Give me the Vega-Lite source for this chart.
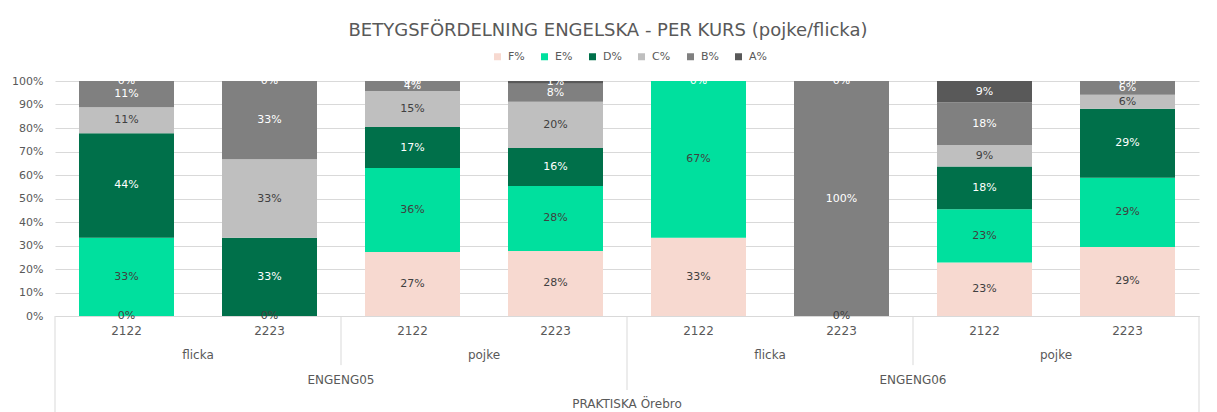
{
  "$schema": "https://vega.github.io/schema/vega-lite/v6.json",
  "width": 1144,
  "height": 235,
  "autosize": {"type": "none"},
  "padding": {"left": 55, "top": 81, "right": 18, "bottom": 96},
  "background": "white",
  "title": {
    "text": "BETYGSFÖRDELNING ENGELSKA - PER KURS (pojke/flicka)",
    "fontSize": 18,
    "font": "DejaVu Sans",
    "fontWeight": "normal",
    "color": "#595959",
    "anchor": "middle",
    "dx": -19,
    "offset": 11
  },
  "config": {
    "view": {"stroke": null},
    "font": "DejaVu Sans",
    "axisX": {"labels": false, "ticks": false, "grid": false, "domainColor": "#d9d9d9", "domainWidth": 1},
    "axisY": {"domain": false, "ticks": false, "tickSize": 0, "labelOverlap": false, "gridColor": "#d9d9d9", "labelColor": "#595959", "labelFontSize": 11, "labelPadding": 12, "format": ".0%", "values": [0, 0.1, 0.2, 0.3, 0.4, 0.5, 0.6, 0.7, 0.8, 0.9, 1]}
  },
  "datasets": {
    "grades": [
      {"grp": "ENGENG05 flicka", "year": "2122", "grade": "F%", "pct": 0},
      {"grp": "ENGENG05 flicka", "year": "2122", "grade": "E%", "pct": 0.3333},
      {"grp": "ENGENG05 flicka", "year": "2122", "grade": "D%", "pct": 0.4444},
      {"grp": "ENGENG05 flicka", "year": "2122", "grade": "C%", "pct": 0.1111},
      {"grp": "ENGENG05 flicka", "year": "2122", "grade": "B%", "pct": 0.1111},
      {"grp": "ENGENG05 flicka", "year": "2122", "grade": "A%", "pct": 0},
      {"grp": "ENGENG05 flicka", "year": "2223", "grade": "F%", "pct": 0},
      {"grp": "ENGENG05 flicka", "year": "2223", "grade": "D%", "pct": 0.3333},
      {"grp": "ENGENG05 flicka", "year": "2223", "grade": "C%", "pct": 0.3333},
      {"grp": "ENGENG05 flicka", "year": "2223", "grade": "B%", "pct": 0.3334},
      {"grp": "ENGENG05 flicka", "year": "2223", "grade": "A%", "pct": 0},
      {"grp": "ENGENG05 pojke", "year": "2122", "grade": "F%", "pct": 0.272},
      {"grp": "ENGENG05 pojke", "year": "2122", "grade": "E%", "pct": 0.358},
      {"grp": "ENGENG05 pojke", "year": "2122", "grade": "D%", "pct": 0.174},
      {"grp": "ENGENG05 pojke", "year": "2122", "grade": "C%", "pct": 0.153},
      {"grp": "ENGENG05 pojke", "year": "2122", "grade": "B%", "pct": 0.043},
      {"grp": "ENGENG05 pojke", "year": "2122", "grade": "A%", "pct": 0},
      {"grp": "ENGENG05 pojke", "year": "2223", "grade": "F%", "pct": 0.277},
      {"grp": "ENGENG05 pojke", "year": "2223", "grade": "E%", "pct": 0.276},
      {"grp": "ENGENG05 pojke", "year": "2223", "grade": "D%", "pct": 0.162},
      {"grp": "ENGENG05 pojke", "year": "2223", "grade": "C%", "pct": 0.197},
      {"grp": "ENGENG05 pojke", "year": "2223", "grade": "B%", "pct": 0.076},
      {"grp": "ENGENG05 pojke", "year": "2223", "grade": "A%", "pct": 0.012},
      {"grp": "ENGENG06 flicka", "year": "2122", "grade": "F%", "pct": 0.3333},
      {"grp": "ENGENG06 flicka", "year": "2122", "grade": "E%", "pct": 0.6667},
      {"grp": "ENGENG06 flicka", "year": "2122", "grade": "A%", "pct": 0},
      {"grp": "ENGENG06 flicka", "year": "2223", "grade": "F%", "pct": 0},
      {"grp": "ENGENG06 flicka", "year": "2223", "grade": "B%", "pct": 1},
      {"grp": "ENGENG06 flicka", "year": "2223", "grade": "A%", "pct": 0},
      {"grp": "ENGENG06 pojke", "year": "2122", "grade": "F%", "pct": 0.2273},
      {"grp": "ENGENG06 pojke", "year": "2122", "grade": "E%", "pct": 0.2273},
      {"grp": "ENGENG06 pojke", "year": "2122", "grade": "D%", "pct": 0.1818},
      {"grp": "ENGENG06 pojke", "year": "2122", "grade": "C%", "pct": 0.0909},
      {"grp": "ENGENG06 pojke", "year": "2122", "grade": "B%", "pct": 0.1818},
      {"grp": "ENGENG06 pojke", "year": "2122", "grade": "A%", "pct": 0.0909},
      {"grp": "ENGENG06 pojke", "year": "2223", "grade": "F%", "pct": 0.2941},
      {"grp": "ENGENG06 pojke", "year": "2223", "grade": "E%", "pct": 0.2941},
      {"grp": "ENGENG06 pojke", "year": "2223", "grade": "D%", "pct": 0.2941},
      {"grp": "ENGENG06 pojke", "year": "2223", "grade": "C%", "pct": 0.0588},
      {"grp": "ENGENG06 pojke", "year": "2223", "grade": "B%", "pct": 0.0589},
      {"grp": "ENGENG06 pojke", "year": "2223", "grade": "A%", "pct": 0}
    ],
    "cols": [
      {"grp": "ENGENG05 flicka", "year": "2122"},
      {"grp": "ENGENG05 flicka", "year": "2223"},
      {"grp": "ENGENG05 pojke", "year": "2122"},
      {"grp": "ENGENG05 pojke", "year": "2223"},
      {"grp": "ENGENG06 flicka", "year": "2122"},
      {"grp": "ENGENG06 flicka", "year": "2223"},
      {"grp": "ENGENG06 pojke", "year": "2122"},
      {"grp": "ENGENG06 pojke", "year": "2223"}
    ],
    "genders": [
      {"grp": "ENGENG05 flicka", "gender": "flicka"},
      {"grp": "ENGENG05 pojke", "gender": "pojke"},
      {"grp": "ENGENG06 flicka", "gender": "flicka"},
      {"grp": "ENGENG06 pojke", "gender": "pojke"}
    ],
    "courses": [
      {"grp": "ENGENG05 pojke", "course": "ENGENG05"},
      {"grp": "ENGENG06 pojke", "course": "ENGENG06"}
    ],
    "school": [
      {"grp": "ENGENG06 flicka", "school": "PRAKTISKA Örebro"}
    ]
  },
  "layer": [
    {
      "data": {"name": "grades"},
      "mark": {"type": "bar"},
      "encoding": {
        "x": {"field": "grp", "type": "nominal", "title": null,
              "scale": {"domain": ["ENGENG05 flicka", "ENGENG05 pojke", "ENGENG06 flicka", "ENGENG06 pojke"], "paddingInner": 0, "paddingOuter": 0}},
        "xOffset": {"field": "year", "type": "nominal",
                    "scale": {"domain": ["2122", "2223"], "paddingInner": 0.3357, "paddingOuter": 0.1678}},
        "y": {"field": "pct", "type": "quantitative", "stack": "zero", "title": null,
              "scale": {"domain": [0, 1], "nice": false},
              "axis": {"format": ".0%", "values": [0, 0.1, 0.2, 0.3, 0.4, 0.5, 0.6, 0.7, 0.8, 0.9, 1]}},
        "order": {"field": "grade", "sort": "descending"},
        "color": {"field": "grade", "type": "nominal",
                  "scale": {"domain": ["F%", "E%", "D%", "C%", "B%", "A%"],
                            "range": ["#F7D9D0", "#00E09E", "#00704A", "#BFBFBF", "#808080", "#595959"]},
                  "legend": {"title": null, "orient": "none", "direction": "horizontal",
                             "legendX": 437, "legendY": -30, "symbolType": "square", "symbolSize": 49,
                             "symbolStrokeWidth": 0, "labelFontSize": 11, "labelColor": "#595959",
                             "columnPadding": 14, "labelOffset": 5}}
      }
    },
    {
      "data": {"name": "grades"},
      "mark": {"type": "text", "fontSize": 11, "baseline": "middle"},
      "encoding": {
        "x": {"field": "grp", "type": "nominal", "title": null,
              "scale": {"domain": ["ENGENG05 flicka", "ENGENG05 pojke", "ENGENG06 flicka", "ENGENG06 pojke"]}},
        "xOffset": {"field": "year", "type": "nominal"},
        "y": {"field": "pct", "type": "quantitative", "stack": "zero", "bandPosition": 0.5, "title": null,
              "axis": {"format": ".0%", "values": [0, 0.1, 0.2, 0.3, 0.4, 0.5, 0.6, 0.7, 0.8, 0.9, 1]}},
        "order": {"field": "grade", "sort": "descending"},
        "detail": {"field": "grade"},
        "text": {"field": "pct", "format": ".0%"},
        "color": {"condition": {"test": "indexof(['D%','B%','A%'], datum.grade) >= 0", "value": "#ffffff"}, "value": "#404040"}
      }
    },
    {
      "data": {"name": "cols"},
      "mark": {"type": "text", "fontSize": 12, "color": "#595959", "baseline": "middle"},
      "encoding": {
        "x": {"field": "grp", "type": "nominal", "title": null},
        "xOffset": {"field": "year", "type": "nominal"},
        "y": {"datum": -0.064, "type": "quantitative", "axis": {"format": ".0%", "values": [0, 0.1, 0.2, 0.3, 0.4, 0.5, 0.6, 0.7, 0.8, 0.9, 1]}},
        "text": {"field": "year"}
      }
    },
    {
      "data": {"name": "genders"},
      "mark": {"type": "text", "fontSize": 12, "color": "#595959", "baseline": "middle"},
      "encoding": {
        "x": {"field": "grp", "type": "nominal", "title": null},
        "y": {"datum": -0.166, "type": "quantitative", "axis": {"format": ".0%", "values": [0, 0.1, 0.2, 0.3, 0.4, 0.5, 0.6, 0.7, 0.8, 0.9, 1]}},
        "text": {"field": "gender"}
      }
    },
    {
      "data": {"name": "courses"},
      "mark": {"type": "text", "fontSize": 12, "color": "#595959", "baseline": "middle"},
      "encoding": {
        "x": {"field": "grp", "type": "nominal", "bandPosition": 0, "title": null},
        "y": {"datum": -0.272, "type": "quantitative", "axis": {"format": ".0%", "values": [0, 0.1, 0.2, 0.3, 0.4, 0.5, 0.6, 0.7, 0.8, 0.9, 1]}},
        "text": {"field": "course"}
      }
    },
    {
      "data": {"name": "school"},
      "mark": {"type": "text", "fontSize": 12, "color": "#595959", "baseline": "middle"},
      "encoding": {
        "x": {"field": "grp", "type": "nominal", "bandPosition": 0, "title": null},
        "y": {"datum": -0.374, "type": "quantitative", "axis": {"format": ".0%", "values": [0, 0.1, 0.2, 0.3, 0.4, 0.5, 0.6, 0.7, 0.8, 0.9, 1]}},
        "text": {"field": "school"}
      }
    },
    {
      "data": {"values": [{"grp": "ENGENG05 pojke"}, {"grp": "ENGENG06 pojke"}]},
      "mark": {"type": "rule", "color": "#d9d9d9", "strokeWidth": 1},
      "encoding": {
        "x": {"field": "grp", "type": "nominal", "bandPosition": 0, "title": null},
        "y": {"datum": 0, "type": "quantitative", "axis": {"format": ".0%", "values": [0, 0.1, 0.2, 0.3, 0.4, 0.5, 0.6, 0.7, 0.8, 0.9, 1]}},
        "y2": {"datum": -0.209}
      }
    },
    {
      "data": {"values": [{"grp": "ENGENG06 flicka"}]},
      "mark": {"type": "rule", "color": "#d9d9d9", "strokeWidth": 1},
      "encoding": {
        "x": {"field": "grp", "type": "nominal", "bandPosition": 0, "title": null},
        "y": {"datum": 0, "type": "quantitative", "axis": {"format": ".0%", "values": [0, 0.1, 0.2, 0.3, 0.4, 0.5, 0.6, 0.7, 0.8, 0.9, 1]}},
        "y2": {"datum": -0.315}
      }
    },
    {
      "data": {"values": [{"grp": "ENGENG05 flicka"}]},
      "mark": {"type": "rule", "color": "#d9d9d9", "strokeWidth": 1},
      "encoding": {
        "x": {"field": "grp", "type": "nominal", "bandPosition": 0, "title": null},
        "y": {"datum": 0, "type": "quantitative", "axis": {"format": ".0%", "values": [0, 0.1, 0.2, 0.3, 0.4, 0.5, 0.6, 0.7, 0.8, 0.9, 1]}},
        "y2": {"datum": -0.42}
      }
    },
    {
      "data": {"values": [{"grp": "ENGENG06 pojke"}]},
      "mark": {"type": "rule", "color": "#d9d9d9", "strokeWidth": 1},
      "encoding": {
        "x": {"field": "grp", "type": "nominal", "bandPosition": 1, "title": null},
        "y": {"datum": 0, "type": "quantitative", "axis": {"format": ".0%", "values": [0, 0.1, 0.2, 0.3, 0.4, 0.5, 0.6, 0.7, 0.8, 0.9, 1]}},
        "y2": {"datum": -0.42}
      }
    }
  ]
}
